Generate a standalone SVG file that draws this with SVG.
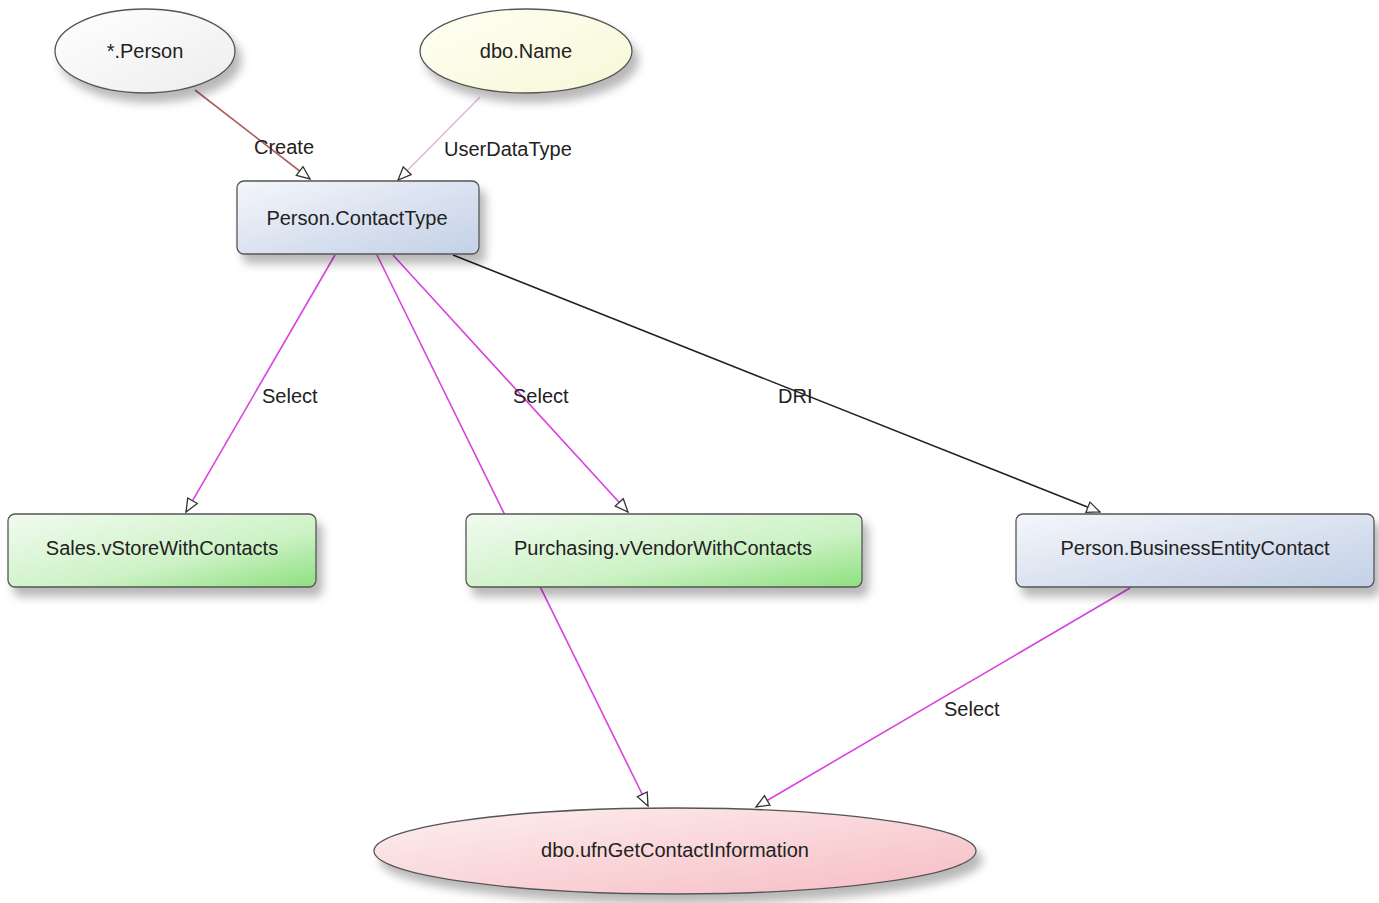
<svg xmlns="http://www.w3.org/2000/svg" width="1379" height="903" viewBox="0 0 1379 903">
<defs>
<linearGradient id="gBlue" x1="0" y1="0" x2="1" y2="1"><stop offset="0" stop-color="#f4f6fb"/><stop offset="1" stop-color="#c3d0e6"/></linearGradient>
<linearGradient id="gGreen" x1="0" y1="0" x2="1" y2="1"><stop offset="0" stop-color="#f2fbf0"/><stop offset="0.6" stop-color="#cdf2c6"/><stop offset="1" stop-color="#8ee07f"/></linearGradient>
<linearGradient id="gPink" x1="0" y1="0" x2="1" y2="1"><stop offset="0" stop-color="#fdf0f0"/><stop offset="1" stop-color="#f6bcc3"/></linearGradient>
<linearGradient id="gWhite" x1="0" y1="0" x2="1" y2="1"><stop offset="0" stop-color="#ffffff"/><stop offset="1" stop-color="#ededed"/></linearGradient>
<linearGradient id="gYellow" x1="0" y1="0" x2="1" y2="1"><stop offset="0" stop-color="#fffff4"/><stop offset="1" stop-color="#f7f7d8"/></linearGradient>
<filter id="sh" x="-10%" y="-20%" width="130%" height="160%"><feDropShadow dx="6" dy="9" stdDeviation="5" flood-color="#000" flood-opacity="0.28"/></filter>
<marker id="arr" markerUnits="userSpaceOnUse" markerWidth="20" markerHeight="16" refX="15" refY="7" orient="auto" viewBox="0 0 20 14"><path d="M2,1.5 L15,7 L2,12.5 Z" fill="#fff" stroke="#333" stroke-width="1.3"/></marker>
</defs>
<style>
.n{stroke:#555;stroke-width:1.3}
.t{font-family:"Liberation Sans",Arial,sans-serif;font-size:20px;fill:#222;text-anchor:middle}
.l{font-family:"Liberation Sans",Arial,sans-serif;font-size:20px;fill:#222}
.e{fill:none;stroke-width:1.6}
.sel{stroke:#d843e0}
</style>
<rect width="1379" height="903" fill="#fff"/>
<g id="connectors">
<line class="e" x1="195" y1="90" x2="310" y2="179" stroke="#a8605c" marker-end="url(#arr)"/>
<line class="e" x1="480" y1="97" x2="398" y2="180" stroke="#e6b6d6" marker-end="url(#arr)"/>
<line class="e sel" x1="335" y1="255" x2="186" y2="512" marker-end="url(#arr)"/>
<line class="e sel" x1="377" y1="255" x2="648" y2="806" marker-end="url(#arr)"/>
<line class="e sel" x1="393" y1="255" x2="628" y2="512" marker-end="url(#arr)"/>
<line class="e" x1="453" y1="255" x2="1100" y2="512" stroke="#222" marker-end="url(#arr)"/>
<line class="e sel" x1="1130" y1="588" x2="756" y2="807" marker-end="url(#arr)"/>
<text class="l" x="254" y="154">Create</text>
<text class="l" x="444" y="156">UserDataType</text>
<text class="l" x="262" y="403">Select</text>
<text class="l" x="513" y="403">Select</text>
<text class="l" x="778" y="403">DRI</text>
<text class="l" x="944" y="716">Select</text>
</g>
<g id="node-person">
<ellipse class="n" cx="145" cy="51" rx="90" ry="42" fill="url(#gWhite)" filter="url(#sh)"/>
<text class="t" x="145" y="58">*.Person</text>
</g>
<g id="node-dboname">
<ellipse class="n" cx="526" cy="51" rx="106" ry="42" fill="url(#gYellow)" filter="url(#sh)"/>
<text class="t" x="526" y="58">dbo.Name</text>
</g>
<g id="node-contacttype">
<rect class="n" x="237" y="181" width="242" height="73" rx="7" fill="url(#gBlue)" filter="url(#sh)"/>
<text class="t" x="357" y="225">Person.ContactType</text>
</g>
<g id="node-vstore">
<rect class="n" x="8" y="514" width="308" height="73" rx="7" fill="url(#gGreen)" filter="url(#sh)"/>
<text class="t" x="162" y="555">Sales.vStoreWithContacts</text>
</g>
<g id="node-vvendor">
<rect class="n" x="466" y="514" width="396" height="73" rx="7" fill="url(#gGreen)" filter="url(#sh)"/>
<text class="t" x="663" y="555">Purchasing.vVendorWithContacts</text>
</g>
<g id="node-bec">
<rect class="n" x="1016" y="514" width="358" height="73" rx="7" fill="url(#gBlue)" filter="url(#sh)"/>
<text class="t" x="1195" y="555">Person.BusinessEntityContact</text>
</g>
<g id="node-ufn">
<ellipse class="n" cx="675" cy="851" rx="301" ry="43" fill="url(#gPink)" filter="url(#sh)"/>
<text class="t" x="675" y="857">dbo.ufnGetContactInformation</text>
</g>
</svg>
